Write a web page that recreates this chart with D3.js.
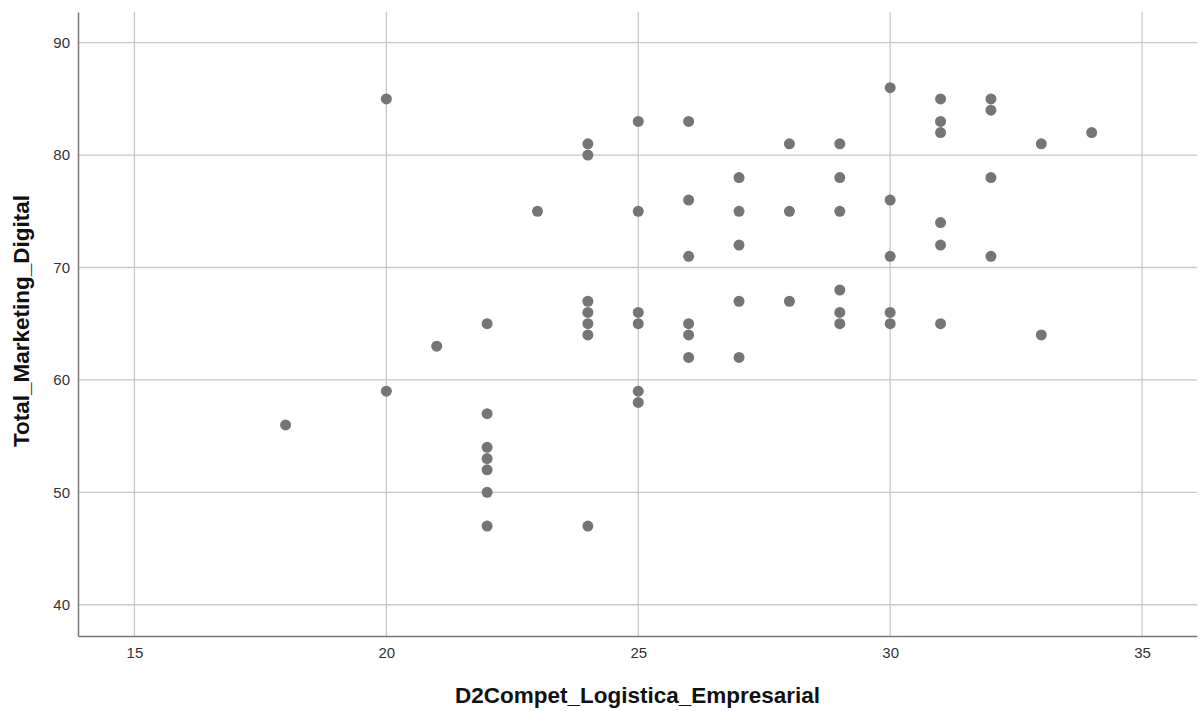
<!DOCTYPE html>
<html>
<head>
<meta charset="utf-8">
<script src="https://cdn.jsdelivr.net/npm/d3@7"></script>
<style>
  body { margin: 0; background: #fff; }
  svg { display: block; font-family: "Liberation Sans", Arial, sans-serif; }
</style>
</head>
<body>
<svg id="chart"></svg>
<script>
const svgWidth = 1201;
const svgHeight = 711;
const margin = { top: 12, right: 4, bottom: 75, left: 78 };
const width = svgWidth - margin.left - margin.right;
const height = svgHeight - margin.top - margin.bottom;

// D2Compet_Logistica_Empresarial values
const xValues = [
  18,
  20, 20,
  21,
  22, 22, 22, 22, 22, 22, 22,
  23,
  24, 24, 24, 24, 24, 24, 24,
  25, 25, 25, 25, 25, 25,
  26, 26, 26, 26, 26, 26,
  27, 27, 27, 27, 27,
  28, 28, 28,
  29, 29, 29, 29, 29, 29,
  30, 30, 30, 30, 30,
  31, 31, 31, 31, 31, 31,
  32, 32, 32, 32,
  33, 33,
  34
];
// Total_Marketing_Digital values
const yValues = [
  56,
  85, 59,
  63,
  65, 57, 54, 53, 52, 50, 47,
  75,
  81, 80, 67, 66, 65, 64, 47,
  83, 75, 66, 65, 59, 58,
  83, 76, 71, 65, 64, 62,
  78, 75, 72, 67, 62,
  81, 75, 67,
  81, 78, 75, 68, 66, 65,
  86, 76, 71, 66, 65,
  85, 83, 82, 74, 72, 65,
  85, 84, 78, 71,
  81, 64,
  82
];
const xTicks = [15, 20, 25, 30, 35];
const yTicks = [40, 50, 60, 70, 80, 90];
const xTitle = "D2Compet_Logistica_Empresarial";
const yTitle = "Total_Marketing_Digital";

const points = xValues.map((d, i) => ({ x: d, y: yValues[i] }));

let svg = d3.select("#chart")
  .attr("width", svgWidth)
  .attr("height", svgHeight);

let g = svg.append("g")
  .attr("transform", "translate(" + margin.left + "," + margin.top + ")");

let x = d3.scaleLinear().domain([13.88, 36.09]).range([0, width]);
let y = d3.scaleLinear().domain([37.22, 92.73]).range([height, 0]);

// grid lines
g.append("g")
  .selectAll("line")
  .data(xTicks)
  .join("line")
  .attr("x1", d => x(d)).attr("x2", d => x(d))
  .attr("y1", 0).attr("y2", height)
  .attr("stroke", "#c8c8c8")
  .attr("stroke-width", 1.3);

g.append("g")
  .selectAll("line")
  .data(yTicks)
  .join("line")
  .attr("x1", 0).attr("x2", width)
  .attr("y1", d => y(d)).attr("y2", d => y(d))
  .attr("stroke", "#c8c8c8")
  .attr("stroke-width", 1.3);

// axes
let xAxis = g.append("g")
  .attr("transform", "translate(0," + height + ")")
  .call(d3.axisBottom(x).tickValues(xTicks).tickSize(0).tickPadding(11));
xAxis.select(".domain").attr("stroke", "#777").attr("stroke-width", 1.5);
xAxis.selectAll("text").attr("font-size", 15).attr("fill", "#333");

let yAxis = g.append("g")
  .call(d3.axisLeft(y).tickValues(yTicks).tickSize(0).tickPadding(8));
yAxis.select(".domain").attr("stroke", "#777").attr("stroke-width", 1.5);
yAxis.selectAll("text").attr("font-size", 15).attr("fill", "#333");

// points
g.append("g")
  .selectAll("circle")
  .data(points)
  .join("circle")
  .attr("cx", d => x(d.x))
  .attr("cy", d => y(d.y))
  .attr("r", 5.5)
  .attr("fill", "#757575");

// axis titles
svg.append("text")
  .attr("x", margin.left + width / 2)
  .attr("y", 703)
  .attr("text-anchor", "middle")
  .attr("font-size", 22.5)
  .attr("font-weight", "bold")
  .attr("fill", "#111")
  .text(xTitle);

svg.append("text")
  .attr("transform", "translate(29,321) rotate(-90)")
  .attr("text-anchor", "middle")
  .attr("font-size", 22.5)
  .attr("font-weight", "bold")
  .attr("fill", "#111")
  .text(yTitle);
</script>
</body>
</html>
